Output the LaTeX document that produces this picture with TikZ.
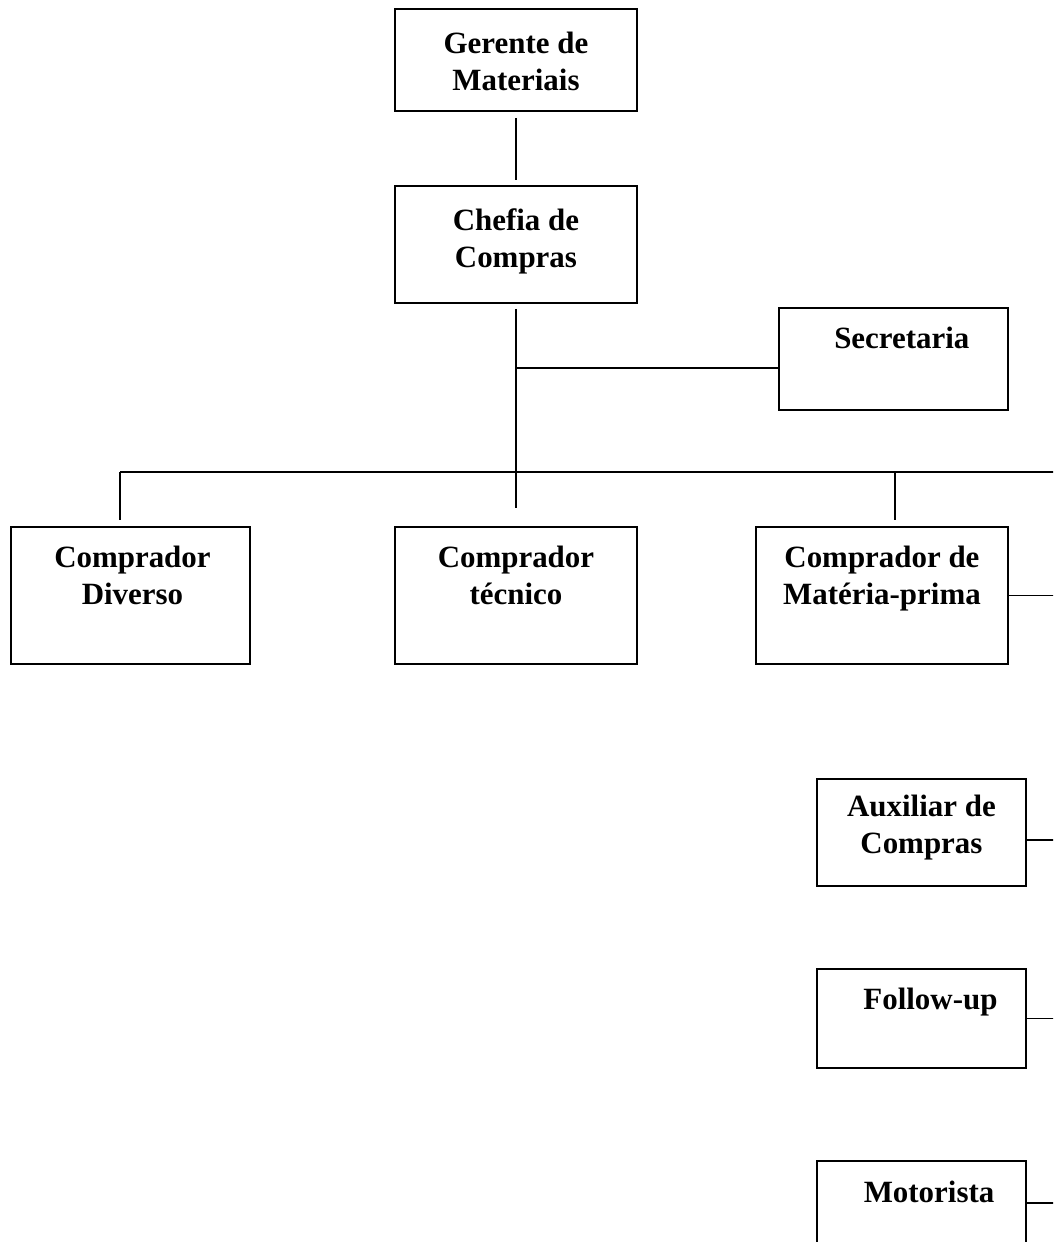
\documentclass[tikz,border=0pt]{standalone}
\usepackage{fontspec}
\setmainfont{Liberation Serif}
\usetikzlibrary{positioning}
\newcommand{\boxfont}{\fontsize{22}{26.3}\selectfont\bfseries}
\tikzset {
  box/.style={draw, line width=1.3pt, anchor=north west, inner sep=0pt},
  lbl/.style={font=\boxfont, align=center, inner sep=0pt},
  link/.style={line width=1.3pt},
}

\begin{document}
\begin{tikzpicture}[x=0.025cm, y=-0.025cm]
  \useasboundingbox (0,0) rectangle (1053,1242);
  \clip (0,0) rectangle (1053,1242);

  % boxes
  \node[box, minimum width=6.05cm, minimum height=2.55cm] (gerente) at (394,8) {};
  \node[box, minimum width=6.05cm, minimum height=2.925cm] (chefia) at (394,185) {};
  \node[box, minimum width=5.725cm, minimum height=2.55cm] (sec) at (778,307) {};
  \node[box, minimum width=5.975cm, minimum height=3.425cm] (diverso) at (10,526) {};
  \node[box, minimum width=6.05cm, minimum height=3.425cm] (tecnico) at (394,526) {};
  \node[box, minimum width=6.3cm, minimum height=3.425cm] (materia) at (755,526) {};
  \node[box, minimum width=5.225cm, minimum height=2.675cm] (aux) at (816,778) {};
  \node[box, minimum width=5.225cm, minimum height=2.475cm] (fol) at (816,968) {};
  \node[box, minimum width=5.225cm, minimum height=2.5cm] (mot) at (816,1160) {};

  % texts
  \node[lbl, below=0.6cm of gerente.north] (gerente-t) {Gerente de\\Materiais};
  \node[lbl, below=0.575cm of chefia.north] (chefia-t) {Chefia de\\Compras};
  \node[lbl, below=0.5cm of sec.north, xshift=0.21cm] (sec-t) {Secretaria};
  \node[lbl, below=0.5cm of diverso.north, xshift=0.05cm] (diverso-t) {Comprador\\Diverso};
  \node[lbl, below=0.5cm of tecnico.north] (tecnico-t) {Comprador\\técnico};
  \node[lbl, below=0.5cm of materia.north] (materia-t) {Comprador de\\Matéria-prima};
  \node[lbl, below=0.425cm of aux.north] (aux-t) {Auxiliar de\\Compras};
  \node[lbl, below=0.5cm of fol.north, xshift=0.225cm] (fol-t) {Follow-up};
  \node[lbl, below=0.525cm of mot.north, xshift=0.19cm] (mot-t) {Motorista};

  % junctions
  \coordinate[above=0.45cm of tecnico.north] (trunk);
  \coordinate (secj) at ([yshift=-0.225cm]sec.west);
  \coordinate (busl) at (120,472);
  \coordinate (busr) at (895,472);
  \coordinate (rim) at (1060,472);
  \coordinate (auxj) at ([yshift=-0.19cm]aux.east);
  \coordinate (motj) at ([yshift=-1.075cm]mot.north east);

  % connectors
  \draw[link, shorten <=0.15cm, shorten >=0.125cm] (gerente.south) -- (chefia.north);
  \draw[link, shorten <=0.125cm] (chefia.south) -- (trunk);
  \draw[link] (secj) -- (secj -| trunk);
  \draw[link] (busl) -- (rim);
  \draw[link, shorten >=0.15cm] (busl) -- (busl |- diverso.north);
  \draw[link, shorten >=0.15cm] (busr) -- (busr |- materia.north);
  \draw[link] (materia.east) -- (materia.east -| rim);
  \draw[link] (auxj) -- (auxj -| rim);
  \draw[link] (fol.east) -- (fol.east -| rim);
  \draw[link] (motj) -- (motj -| rim);
\end{tikzpicture}
\end{document}
